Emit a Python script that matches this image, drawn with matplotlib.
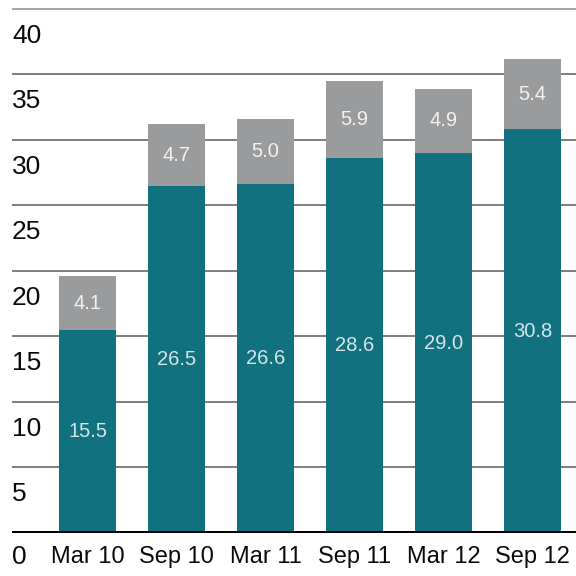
import matplotlib.pyplot as plt
import numpy as np

plt.rcParams['font.family'] = ['Liberation Sans', 'DejaVu Sans']

periods = ["Mar 10", "Sep 10", "Mar 11", "Sep 11", "Mar 12", "Sep 12"]
base = [15.5, 26.5, 26.6, 28.6, 29.0, 30.8]
extra = [4.1, 4.7, 5.0, 5.9, 4.9, 5.4]
yticks = [0, 5, 10, 15, 20, 25, 30, 35, 40]

teal = "#12717f"
grey = "#9a9b9d"

fig = plt.figure(figsize=(5.76, 5.76), dpi=100)
ax = fig.add_axes([12 / 576, 43 / 576, 1 - 12 / 576, 528 / 576])

x = np.arange(len(periods))
ax.bar(x, base, width=0.64, color=teal, zorder=2)
ax.bar(x, extra, width=0.64, bottom=base, color=grey, zorder=2)

for i in range(len(periods)):
    ax.text(x[i], base[i] / 2, f"{base[i]:.1f}", ha="center", va="center",
            fontsize=14.5, color="#d2e6ea", zorder=3)
    ax.text(x[i], base[i] + extra[i] / 2, f"{extra[i]:.1f}", ha="center",
            va="center", fontsize=14.5, color="#f2f2f2", zorder=3)

# horizontal rules with the value written just under each one
for v in yticks[1:]:
    ax.axhline(v, color="#5a5a5a" if v < 40 else "#8a8a8a", lw=1.1, zorder=1)
    ax.text(0, v - 2.05, str(v), transform=ax.get_yaxis_transform(),
            ha="left", va="center", fontsize=19, color="#0a0a0a")
ax.axhline(0, color="black", lw=3.6, zorder=4)
ax.text(0, -1.8, "0", transform=ax.get_yaxis_transform(),
        ha="left", va="center", fontsize=19, color="#0a0a0a")

for i, p in enumerate(periods):
    ax.text(x[i], -1.8, p, ha="center", va="center", fontsize=17,
            color="#0a0a0a")

ax.set_xlim(-0.85, 5.49)
ax.set_ylim(0, 40.3)
ax.axis("off")

fig.savefig("out.png", dpi=100)
